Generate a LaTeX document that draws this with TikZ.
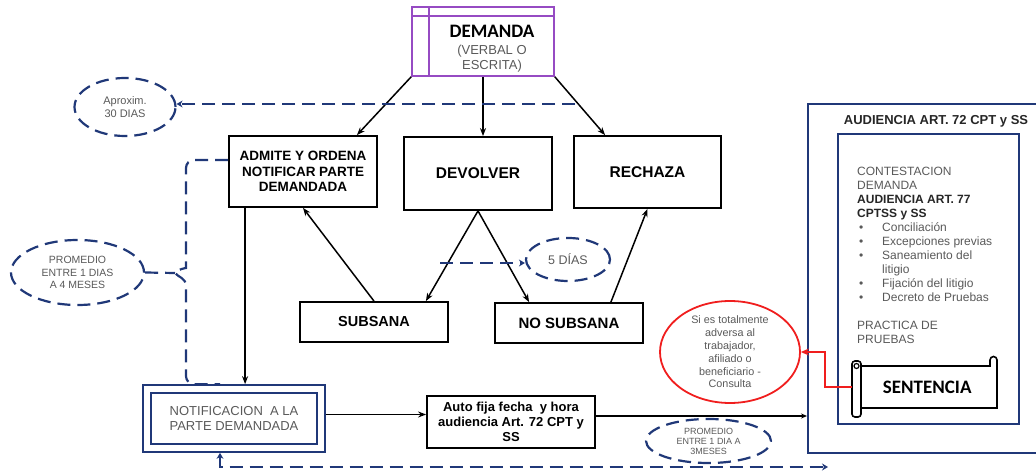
\documentclass[tikz,border=0pt]{standalone}
\usepackage{fontspec}
\setmainfont{Liberation Sans}
\newfontfamily\carl{Carlito}
\usetikzlibrary{shapes.geometric,arrows.meta,calc}
\definecolor{navy}{RGB}{32,56,120}
\definecolor{purp}{RGB}{150,75,195}
\definecolor{txtg}{RGB}{89,89,89}
\definecolor{redc}{RGB}{240,30,30}
\begin{document}
\begin{tikzpicture}[x=1pt,y=-1pt,
  sz/.style 2 args={minimum width=#1pt,minimum height=#2pt,inner sep=0pt},
  bbox/.style={draw=black,line width=1.8pt,align=center,font=\bfseries\fontsize{14.5}{16}\selectfont},
  arr/.style={line width=1.5pt,-{Stealth[length=8pt,width=6pt]}},
  dsh/.style={draw=navy,line width=2.2pt,dash pattern=on 13pt off 7pt},
  dtip/.style={-{Stealth[length=6pt,width=7pt]}},
  dell/.style={ellipse,dsh,inner sep=0pt,align=center,text=txtg},
  nvbox/.style={draw=navy,line width=1.7pt}]
\useasboundingbox (0,0) rectangle (1036,473);

% DEMANDA
\node[draw=purp,line width=1.6pt,sz={142}{69}] (dem) at (483,41.5) {};
\draw[purp,line width=1.6pt] ([yshift=-10pt]dem.north west) -- ([yshift=-10pt]dem.north east);
\draw[purp,line width=1.6pt] ([xshift=18pt]dem.north west) -- ([xshift=18pt]dem.south west);
\node[anchor=base,inner sep=0pt,font=\carl\bfseries\fontsize{19}{20}\selectfont] (demt) at (492,38) {DEMANDA};
\node[inner sep=0pt,align=center,text=txtg,font=\fontsize{13}{15}\selectfont] (dems) at (492,58.5) {(VERBAL O\\ESCRITA)};

% top row boxes
\node[bbox,sz={148}{71},font=\bfseries\fontsize{13.5}{15.5}\selectfont] (adm) at (303,171.5) {ADMITE Y ORDENA\\NOTIFICAR PARTE\\DEMANDADA};
\node[bbox,sz={148}{73},font=\bfseries\fontsize{15.5}{17}\selectfont] (dev) at (478,173.5) {DEVOLVER};
\node[bbox,sz={147}{72},font=\bfseries\fontsize{15.5}{17}\selectfont] (rech) at (647.5,172) {RECHAZA};
\node[bbox,sz={148}{40}] (sub) at (374,322) {SUBSANA};
\node[bbox,sz={148}{40},font=\bfseries\fontsize{15}{17}\selectfont] (nosub) at (569,323) {NO SUBSANA};

% ellipses
\node[dell,sz={101}{58},font=\fontsize{11}{13}\selectfont] (aprox) at (125,107) {Aproxim.\\30 DIAS};
\node[dell,sz={133}{65},font=\fontsize{10.5}{12.5}\selectfont] (prom1) at (77.5,272.5) {PROMEDIO\\ENTRE 1 DIAS\\A 4 MESES};
\node[dell,sz={84}{43},font=\fontsize{12.5}{14}\selectfont] (dias) at (568,259.5) {5 DÍAS};
\node[dell,sz={125}{44},font=\fontsize{9}{10}\selectfont] (prom2) at (708.5,441) {PROMEDIO\\ENTRE 1 DIA A\\3MESES};
\node[ellipse,draw=redc,line width=1.8pt,sz={140}{102},align=center,text=txtg,font=\fontsize{10.8}{12.8}\selectfont] (redell) at (730,352) {Si es totalmente\\adversa al\\trabajador,\\afiliado o\\beneficiario -\\Consulta};

% notificacion
\node[nvbox,sz={182}{67}] (notif) at (234,418.5) {};
\node[nvbox,sz={166}{51},align=center,text=txtg,font=\fontsize{13}{14.5}\selectfont] (notifi) at (234,418.5) {NOTIFICACION\ \ A LA\\PARTE DEMANDADA};

% auto
\node[draw=black,line width=1.8pt,sz={168}{52},align=center,font=\bfseries\fontsize{13}{15}\selectfont] (auto) at (511,422) {Auto fija fecha\ \ y hora\\audiencia Art. 72 CPT y\\SS};

% audiencia
\node[nvbox,sz={238}{349},anchor=north west] (audo) at (807,103) {};
\node[inner sep=0pt,font=\bfseries\fontsize{13}{14}\selectfont,text=black!85] (audt) at (936,121) {AUDIENCIA ART. 72 CPT y SS};
\node[nvbox,sz={181}{290},anchor=north west] (audi) at (837,133) {};
\node[anchor=north west,inner sep=0pt,align=left,text=txtg,font=\fontsize{12}{14}\selectfont] (audx) at (857,167) {CONTESTACION\\DEMANDA\\\textcolor{black!85}{\textbf{AUDIENCIA ART. 77}}\\\textcolor{black!85}{\textbf{CPTSS y SS}}\\
\hspace*{2pt}\makebox[23pt][l]{\textbullet}Conciliación\\
\hspace*{2pt}\makebox[23pt][l]{\textbullet}Excepciones previas\\
\hspace*{2pt}\makebox[23pt][l]{\textbullet}Saneamiento del\\
\hspace*{25pt}litigio\\
\hspace*{2pt}\makebox[23pt][l]{\textbullet}Fijación del litigio\\
\hspace*{2pt}\makebox[23pt][l]{\textbullet}Decreto de Pruebas\\[14pt]
PRACTICA DE\\PRUEBAS};

% scroll
\node[sz={146}{58},anchor=north west,font=\carl\bfseries\fontsize{19}{20}\selectfont] (scroll) at (852,358) {\hspace*{4pt}SENTENCIA};
\draw[line width=1.6pt] (860,366) -- (990,366) -- (990,360) arc[start angle=180,end angle=360,radius=3.5] -- (997,408) -- (860,408);
\draw[line width=1.6pt,fill=white,rounded corners=3pt] (852,361) rectangle (861,417);
\draw[line width=1.2pt] (856.5,366) circle[radius=2.5];

% connectors
\draw[arr] (dem.south west) -- ([xshift=-21pt]adm.north east);
\draw[arr] (dem.south) -- (dem.south |- dev.north);
\draw[arr] (dem.south east) -- ([xshift=32pt]rech.north west);
\draw[arr] (dev.south) -- ([xshift=-23pt]sub.north east);
\draw[arr] (dev.south) -- ([xshift=35pt]nosub.north west);
\draw[arr] (sub.north) -- (adm.south);
\draw[arr] ([xshift=-33pt]nosub.north east) -- (rech.south);
\coordinate (a2) at ([xshift=17pt]adm.south west);
\draw[arr] (a2) -- (a2 |- notif.north);
\coordinate (n1) at ([yshift=4pt]notif.east);
\draw[arr] (n1) -- (n1 -| auto.west);
\coordinate (u1) at ([yshift=6pt]auto.east);
\draw[line width=1.5pt,-{Stealth[length=6pt,width=5pt]}] (u1) -- (u1 -| audo.west);

% dashed connectors
\coordinate (aS) at (575,104);
\draw[dsh,dtip] (aS) -- (aprox.east |- aS);
\coordinate (dS) at (440,263);
\draw[dsh,dtip] (dS) -- (dS -| dias.west);
\coordinate (a1) at ([yshift=11.5pt]adm.west);
\coordinate (brc) at (175,273);
\draw[dsh] (a1) [rounded corners=8pt] -| (186,260) [sharp corners] .. controls (186,268) and (178,269) .. (brc) .. controls (178,277) and (186,278) .. (186,286) [rounded corners=8pt] |- ([xshift=-14pt]notif.north);
\draw[dsh] (prom1.east) -- (brc);
\coordinate (bR) at (828,467);
\draw[dsh,{Stealth[length=6pt,width=7pt]}-{Stealth[length=6pt,width=7pt]}] ([xshift=-14pt]notif.south) |- (bR);

% red connector
\draw[redc,line width=1.6pt,-{Stealth[length=8pt,width=7pt]}] (scroll.west) -- ++(-27,0) |- (redell.east);
\end{tikzpicture}
\end{document}
